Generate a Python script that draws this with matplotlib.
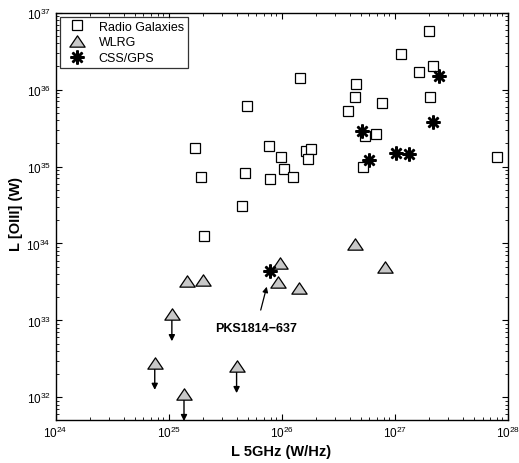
import matplotlib
matplotlib.use("Agg")
import matplotlib.pyplot as plt
from matplotlib.ticker import LogLocator, NullFormatter
from matplotlib.path import Path
import numpy as np

plt.rcParams['font.family'] = ['Liberation Sans', 'DejaVu Sans']
plt.rcParams['mathtext.fontset'] = 'custom'
plt.rcParams['mathtext.rm'] = 'Liberation Sans'

# Radio galaxies
rg_x = [1.71e25, 1.94e25, 4.9e25, 4.7e25, 4.5e25, 7.7e25, 7.9e25, 9.95e25, 1.05e26,
        1.27e26, 1.47e26, 2.07e25, 1.64e26, 1.81e26, 1.71e26, 4.6e26, 4.47e26, 3.9e26,
        7.7e26, 6.8e26, 5.5e26, 5.3e26, 1.15e27, 1.66e27, 2.02e27, 2.19e27, 2.07e27, 8.0e27]
rg_y = [1.76e35, 7.4e34, 6.2e35, 8.3e34, 3.07e34, 1.85e35, 6.8e34, 1.32e35, 9.3e34,
        7.2e34, 1.40e36, 1.25e34, 1.6e35, 1.69e35, 1.25e35, 1.18e36, 8.0e35, 5.2e35,
        6.7e35, 2.63e35, 2.5e35, 9.9e34, 2.86e36, 1.69e36, 5.7e36, 2.0e36, 7.9e35, 1.31e35]

# WLRG detections
wl_x = [1.47e25, 2.03e25, 9.6e25, 9.3e25, 1.42e26, 4.47e26, 8.2e26]
wl_y = [3.28e33, 3.33e33, 5.5e33, 3.2e33, 2.63e33, 9.7e33, 5.0e33]
# WLRG upper limits
wlu_x = [1.07e25, 7.55e24, 1.37e25, 4.0e25]
wlu_y = [1.2e33, 2.8e32, 1.1e32, 2.54e32]

# CSS/GPS
css_x = [5.2e26, 5.9e26, 1.04e27, 1.34e27, 2.18e27, 2.46e27, 7.96e25]
css_y = [2.92e35, 1.21e35, 1.50e35, 1.47e35, 3.76e35, 1.50e36, 4.4e33]

pks_label = "PKS1814\u2212637"
pks_x, pks_y = 7.96e25, 4.4e33

fig = plt.figure(figsize=(5.19, 4.64), dpi=100)
ax = fig.add_axes([0.107, 0.0927, 0.871, 0.878])

tri = Path([(0, 0.74), (-1, -0.74), (1, -0.74), (0, 0.74)],
           [Path.MOVETO, Path.LINETO, Path.LINETO, Path.CLOSEPOLY])

ax.plot(rg_x, rg_y, linestyle='none', marker='s', ms=6.5, mfc='white', mec='black',
        mew=0.9, label='Radio Galaxies', zorder=3)
ax.plot(wl_x + wlu_x, wl_y + wlu_y, linestyle='none', marker=tri, ms=11, mfc='#c8c8c8',
        mec='black', mew=0.9, label='WLRG', zorder=4)
ax.plot(css_x, css_y, linestyle='none', marker=(8, 2, 0), ms=10, mec='black',
        mew=1.8, label='CSS/GPS', zorder=5)

for x, y in zip(wlu_x, wlu_y):
    ax.annotate('', xy=(x, y / 10**0.35), xytext=(x, y), annotation_clip=False,
                arrowprops=dict(arrowstyle='-|>', color='black', lw=1.0,
                                mutation_scale=9, shrinkA=0, shrinkB=0), zorder=2)

ax.annotate(pks_label, xy=(10**25.869, 10**33.438), xytext=(10**25.774, 10**32.898),
            ha='center', va='center', fontsize=9, fontweight='bold',
            arrowprops=dict(arrowstyle='-|>', color='black', lw=0.9,
                            mutation_scale=8, shrinkA=7, shrinkB=0))

ax.set_xscale('log')
ax.set_yscale('log')
ax.set_xlim(1e24, 1e28)
ax.set_ylim(10**31.706, 1e37)

ax.xaxis.set_major_locator(LogLocator(base=10, numticks=10))
ax.yaxis.set_major_locator(LogLocator(base=10, numticks=10))
ax.xaxis.set_minor_locator(LogLocator(base=10, subs=np.arange(2, 10), numticks=20))
ax.yaxis.set_minor_locator(LogLocator(base=10, subs=np.arange(2, 10), numticks=20))
ax.xaxis.set_minor_formatter(NullFormatter())
ax.yaxis.set_minor_formatter(NullFormatter())

ax.tick_params(which='both', direction='in', top=True, right=True, labelsize=8.5)
ax.tick_params(which='major', length=4.5, width=0.8)
ax.tick_params(which='minor', length=2.5, width=0.6)
for s in ax.spines.values():
    s.set_linewidth(1.0)

ax.set_xlabel('L 5GHz (W/Hz)', fontsize=10.5, fontweight='bold')
ax.set_ylabel('L [OIII] (W)', fontsize=10.5, fontweight='bold')
ax.xaxis.set_label_coords(0.5, -0.06)
ax.yaxis.set_label_coords(-0.072, 0.508)

leg = ax.legend(loc='upper left', fontsize=9, frameon=True, fancybox=False,
                edgecolor='black', borderaxespad=0.35, handlelength=2.2,
                handletextpad=0.6, labelspacing=0.3, borderpad=0.3)
leg.get_frame().set_linewidth(0.9)

fig.savefig('out.png', dpi=100)
